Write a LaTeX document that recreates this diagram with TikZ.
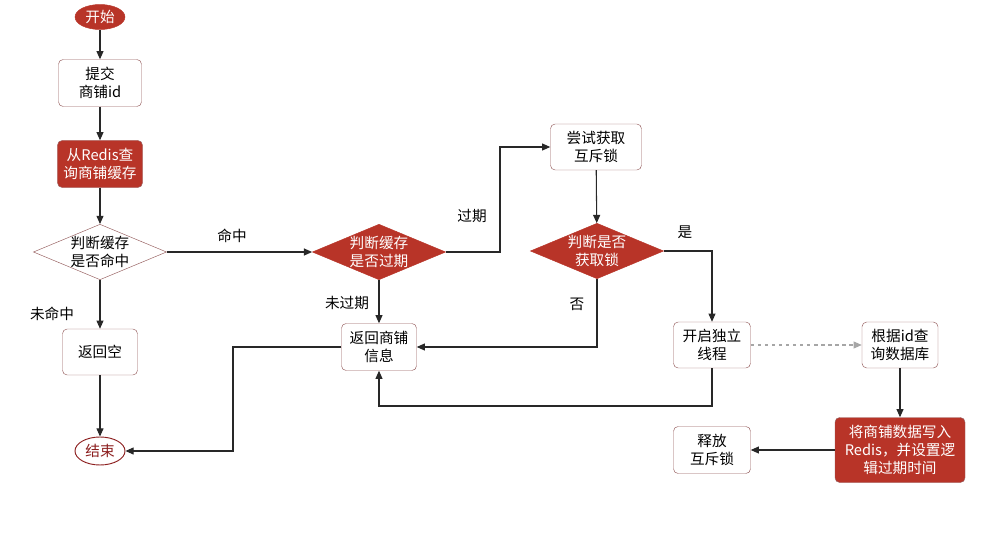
\documentclass[tikz,border=0pt]{standalone}
\usepackage{fontspec}
\setmainfont{Noto Sans CJK SC}
\usetikzlibrary{arrows.meta, shapes.geometric}
\definecolor{redfill}{RGB}{184,52,40}
\definecolor{boxline}{RGB}{150,95,95}
\definecolor{endline}{RGB}{140,30,30}
\definecolor{lineclr}{RGB}{40,40,40}

\begin{document}
\begin{tikzpicture}[x=0.03cm, y=-0.03cm, font=\fontsize{12.5}{15}\selectfont,
  line/.style={draw=lineclr, line width=0.9pt, -{Triangle[length=7pt, width=6pt]}},
  plainbox/.style={draw=boxline, fill=white, rounded corners=4pt, align=center, inner sep=0pt},
  redbox/.style={draw=boxline, fill=redfill, text=white, rounded corners=4pt, align=center, inner sep=0pt},
  whitediam/.style={diamond, shape aspect=2.4, draw=boxline, fill=white, align=center, inner sep=0pt,
    minimum width=3.96cm, minimum height=1.65cm},
  reddiam/.style={diamond, shape aspect=2.4, draw=redfill, fill=redfill, text=white, align=center, inner sep=0pt,
    minimum width=3.96cm, minimum height=1.65cm},
  lbl/.style={font=\fontsize{12.5}{15}\selectfont}]

  \useasboundingbox (0,0) rectangle (999,535);

  % 左列
  \node[ellipse, fill=redfill, draw=redfill, text=white, minimum width=1.5cm, minimum height=0.75cm, inner sep=0pt]
    (start) at (100,17) {开始};
  \node[plainbox, minimum width=2.49cm, minimum height=1.41cm] (submit) at (100,83) {提交\\商铺id};
  \node[redbox, minimum width=2.55cm, minimum height=1.41cm] (query) at (100,164) {从Redis查\\询商铺缓存};
  \node[whitediam] (hit) at (100,252) {判断缓存\\是否命中};
  \node[plainbox, minimum width=2.25cm, minimum height=1.38cm] (empty) at (100,352) {返回空};
  \node[ellipse, draw=endline, thick, fill=white, text=endline, minimum width=1.5cm, minimum height=0.84cm, inner sep=0pt]
    (stop) at (100,451) {结束};

  % 中间
  \node[reddiam] (expire) at (379,252) {判断缓存\\是否过期};
  \node[plainbox, minimum width=2.25cm, minimum height=1.41cm] (info) at (379,347) {返回商铺\\信息};
  \node[plainbox, minimum width=2.73cm, minimum height=1.38cm] (trylock) at (596,147) {尝试获取\\互斥锁};
  \node[reddiam] (getlock) at (597,251) {判断是否\\获取锁};

  % 右侧
  \node[plainbox, minimum width=2.31cm, minimum height=1.38cm] (thread) at (712,345) {开启独立\\线程};
  \node[plainbox, minimum width=2.28cm, minimum height=1.38cm] (db) at (900,345) {根据id查\\询数据库};
  \node[redbox, minimum width=3.9cm, minimum height=1.95cm] (write) at (900,450) {将商铺数据写入\\Redis，并设置逻\\辑过期时间};
  \node[plainbox, minimum width=2.31cm, minimum height=1.41cm] (unlock) at (712,450) {释放\\互斥锁};

  \coordinate (c1) at (233,347);

  \draw[line] (start) -- (submit);
  \draw[line] (submit) -- (query);
  \draw[line] (query) -- (hit);
  \draw[line] (hit) -- (empty);
  \draw[line] (empty) -- (stop);
  \draw[line] (hit) -- (expire);
  \draw[line] (expire) -- (info);
  \draw[line] (expire.east) -| (500,200) |- (trylock.west);
  \draw[line] (trylock) -- (getlock);
  \draw[line] (getlock.east) -| (thread.north);
  \draw[line] (getlock.south) |- (info.east);
  \draw[line] (thread.south) |- (379,406) -- (info.south);
  \draw[line] (info.west) -- (c1) |- (stop.east);
  \draw[line, draw=gray!70, dashed] (thread) -- (db);
  \draw[line] (db) -- (write);
  \draw[line] (write) -- (unlock);

  \node[lbl] (lhit) at (232,236) {命中};
  \node[lbl] (lmiss) at (52,314) {未命中};
  \node[lbl] (lexp) at (472,216) {过期};
  \node[lbl] (lnoexp) at (347,303) {未过期};
  \node[lbl] (lyes) at (685,232) {是};
  \node[lbl] (lno) at (577,304) {否};
\end{tikzpicture}
\end{document}
